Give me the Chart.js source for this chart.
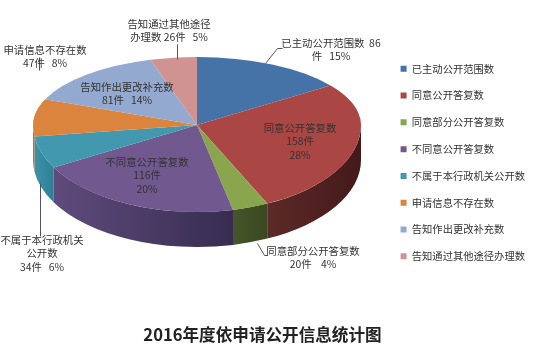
<!DOCTYPE html>
<html>
<head>
<meta charset="utf-8">
<script src="https://cdn.jsdelivr.net/npm/chart.js@4"></script>
<style>
    html, body { margin: 0; padding: 0; background: #fff; }
    #wrap { width: 541px; height: 363px; }
</style>
</head>
<body>
<div id="wrap"><canvas id="pie"></canvas></div>
<script>
const categories = ['已主动公开范围数', '同意公开答复数', '同意部分公开答复数', '不同意公开答复数',
    '不属于本行政机关公开数', '申请信息不存在数', '告知作出更改补充数', '告知通过其他途径办理数'];
const counts = [86, 158, 20, 116, 34, 47, 81, 26];
const chartTitle = '2016年度依申请公开信息统计图';

const colors = ['#4572a7', '#aa4643', '#89a54e', '#71588f', '#4198af', '#db843d', '#93a9cf', '#d19392'];
// side wall colours, left and right end of each slice
const wallLeft = ['#2c4a70', '#5c2a27', '#46552a', '#5f4b7c', '#3a93aa', '#c0702e', '#6f83a5', '#a06f6e'];
const wallRight = ['#2c4a70', '#44191a', '#3a4820', '#372c50', '#2f7f95', '#c0702e', '#6f83a5', '#a06f6e'];

// text of each data label, one entry per line
const labelLines = [
    ['已主动公开范围数  86', '件   15%'],
    ['同意公开答复数', '158件', '28%'],
    ['同意部分公开答复数', '20件    4%'],
    ['不同意公开答复数', '116件', '20%'],
    ['不属于本行政机关', '公开数', '34件   6%'],
    ['申请信息不存在数', '47件   8%'],
    ['告知作出更改补充数', '81件   14%'],
    ['告知通过其他途径', '办理数 26件   5%']
];
// x centre and first line y of each label
const labelSpots = [[331, 43], [300, 128], [313, 251], [147, 162], [42, 240], [45, 50], [127, 87], [169, 24]];
const leaderLines = [
    [[265, 63], [277, 48], [282, 48]],
    [[257, 243], [264, 255], [267, 255]],
    [[40, 183], [40, 236]],
    [[39, 70], [39, 57]],
    [[177, 59], [177, 44]]
];

// where the squashed pie ends up on the canvas
const pieX = 197, pieY = 125, pieRx = 164, backRy = 68, frontRy = 87, wallDepth = 35;
const fontName = '"Noto Sans CJK SC", "Noto Sans", sans-serif';

// Draw the pie flattened with a taller front half, plus the side wall
const tiltedPie = {
    id: 'tiltedPie',
    afterLayout(chart) {
        // title sits a little left of the middle in the original
        chart.titleBlock.left -= 5;
        chart.titleBlock.right -= 5;
        // legend sits a little lower than the layout puts it
        chart.legend.top += 2.5;
        chart.legend.bottom += 2.5;
    },
    beforeDatasetsDraw(chart) {
        const ctx = chart.ctx;
        const arcs = chart.getDatasetMeta(0).data;

        // side wall under the front half
        arcs.forEach((arc, i) => {
            const a0 = Math.max(arc.startAngle, 0);
            const a1 = Math.min(arc.endAngle, Math.PI);
            if (a1 <= a0) return;
            const x0 = pieX + pieRx * Math.cos(a1), x1 = pieX + pieRx * Math.cos(a0);
            const grad = ctx.createLinearGradient(x0, 0, x1, 0);
            grad.addColorStop(0, wallLeft[i]);
            grad.addColorStop(1, wallRight[i]);
            ctx.save();
            ctx.fillStyle = grad;
            ctx.beginPath();
            ctx.ellipse(pieX, pieY, pieRx, frontRy, 0, a0, a1);
            ctx.ellipse(pieX, pieY + wallDepth, pieRx, frontRy, 0, a1, a0, true);
            ctx.closePath();
            ctx.fill();
            ctx.restore();
        });

        const drawHalf = (clipY, clipH, ry) => {
            const first = arcs[0];
            const k = pieRx / first.outerRadius;
            ctx.save();
            ctx.beginPath();
            ctx.rect(0, clipY, chart.width, clipH);
            ctx.clip();
            ctx.translate(pieX, pieY);
            ctx.scale(k, ry / first.outerRadius);
            ctx.translate(-first.x, -first.y);
            arcs.forEach(arc => arc.draw(ctx));
            ctx.restore();
        };
        drawHalf(0, pieY, backRy);
        drawHalf(pieY, chart.height - pieY, frontRy);
        return false;
    },
    afterDraw(chart) {
        const ctx = chart.ctx;
        ctx.save();
        ctx.strokeStyle = '#555';
        ctx.lineWidth = 1;
        leaderLines.forEach(pts => {
            ctx.beginPath();
            pts.forEach((p, i) => i ? ctx.lineTo(p[0] + 0.5, p[1] + 0.5) : ctx.moveTo(p[0] + 0.5, p[1] + 0.5));
            ctx.stroke();
        });
        ctx.fillStyle = '#333';
        ctx.font = '10.4px ' + fontName;
        ctx.textAlign = 'center';
        ctx.textBaseline = 'middle';
        labelLines.forEach((lines, i) => {
            lines.forEach((line, j) => {
                ctx.fillText(line, labelSpots[i][0], labelSpots[i][1] + j * 13.5);
            });
        });
        ctx.restore();
    }
};

new Chart(document.getElementById('pie'), {
    type: 'pie',
    data: {
        labels: categories,
        datasets: [{ data: counts, backgroundColor: colors, borderWidth: 0 }]
    },
    options: {
        responsive: true,
        maintainAspectRatio: false,
        animation: false,
        layout: { padding: { right: 6, bottom: 18 } },
        plugins: {
            tooltip: { enabled: false },
            legend: {
                position: 'right',
                fullSize: false,
                labels: {
                    boxWidth: 6,
                    boxHeight: 6,
                    padding: 16.5,
                    color: '#333',
                    font: { family: fontName, size: 10.3 }
                }
            },
            title: {
                display: true,
                position: 'bottom',
                text: chartTitle,
                color: '#222',
                padding: { top: 5, bottom: 0 },
                font: { family: fontName, size: 16.6, weight: 'bold' }
            }
        }
    },
    plugins: [tiltedPie]
});
</script>
</body>
</html>
